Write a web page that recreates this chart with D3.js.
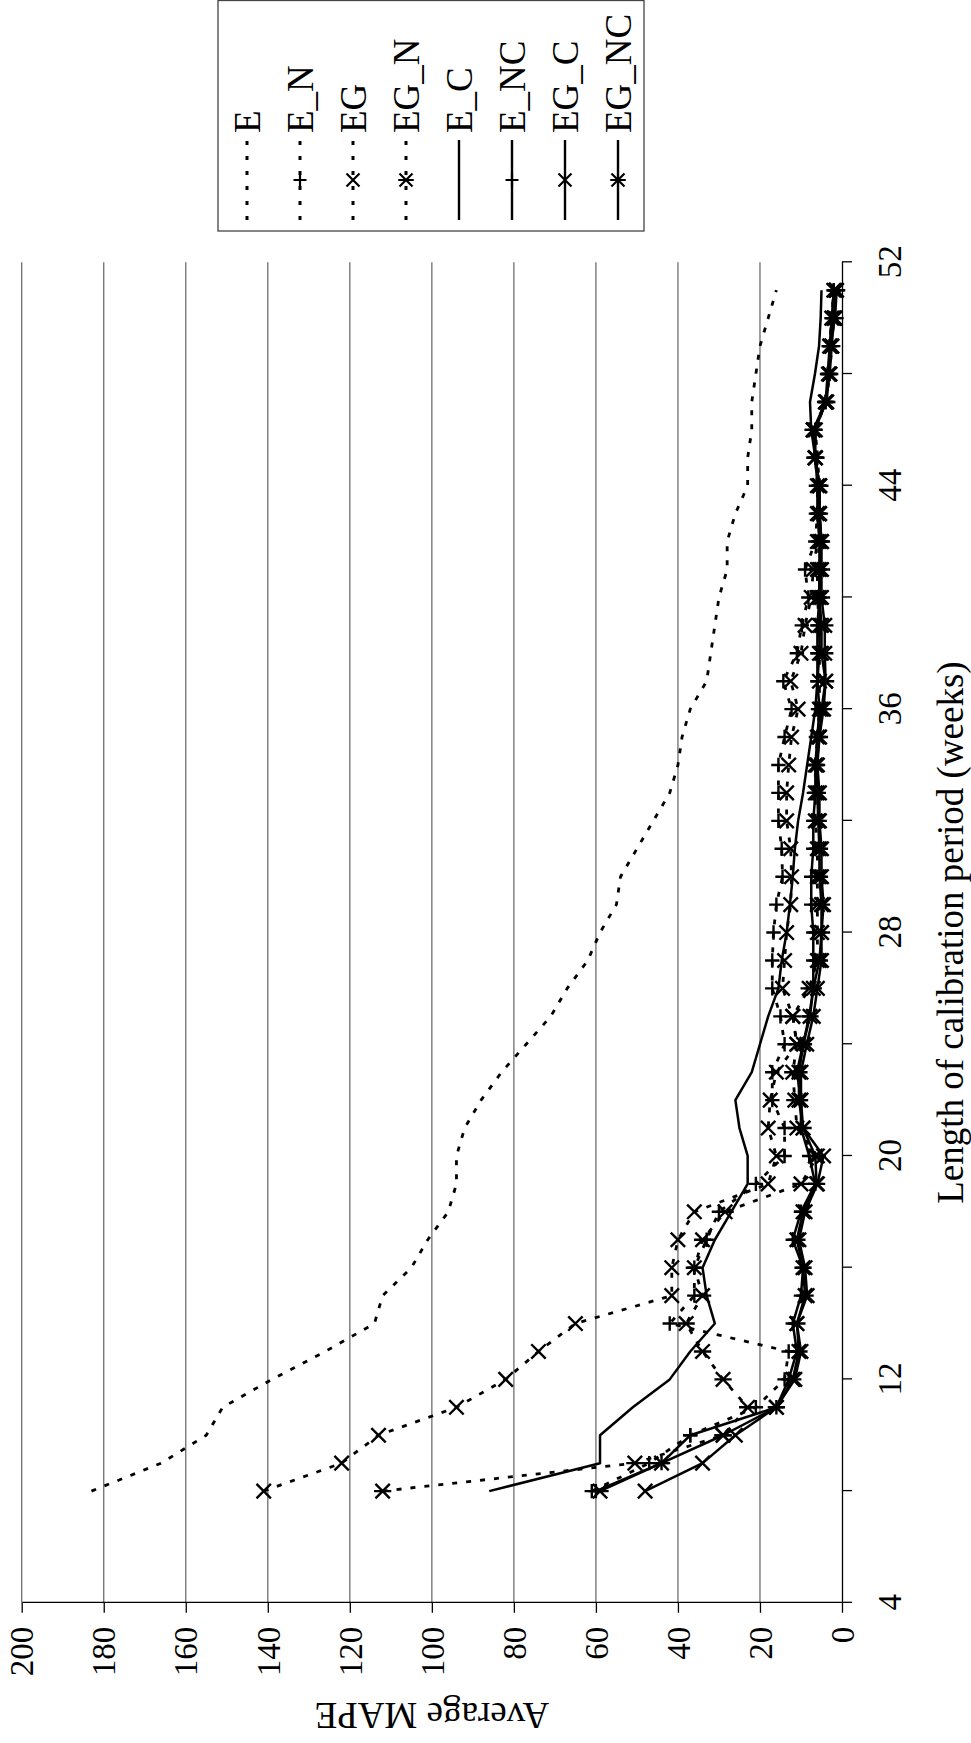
<!DOCTYPE html>
<html><head><meta charset="utf-8">
<script src="https://cdn.jsdelivr.net/npm/d3@7"></script>
<style>
html,body{margin:0;padding:0;background:#fff;}
svg{display:block;}
text{font-family:"Liberation Serif","Times New Roman",serif;fill:#000;}
</style></head>
<body>
<svg id="chart" width="971" height="1743"></svg>
<script>
// ---- data (weeks 8..51) ----
const weeks = [8,9,10,11,12,13,14,15,16,17,18,19,20,21,22,23,24,25,26,27,28,29,30,31,32,33,34,35,36,37,38,39,40,41,42,43,44,45,46,47,48,49,50,51];
const seriesNames = ["E","E_N","EG","EG_N","E_C","E_NC","EG_C","EG_NC"];
const E     = [183,166,155,151,139,126,114,112,105,101,96,94,94,92,88,83,77,71,67,62,59,55,54,50,46,42,40,39,37,33,32,31,30,28,28,26,23,23,22,22,21,20,18,16];
const E_N   = [61,47,37,21,14,13,42,36,36,33,30,21,14,14,17,17,14,15,17,17,16.7,16,14.5,14.7,15.5,15.5,15.5,14,12.3,14.3,11,9.8,8.2,9,6.5,6,5.5,6,6.5,4,3,3,2.5,2];
const EG    = [141,122,113,94,82,74,65,41.5,41.5,40,36,18,16,18,17.5,16,11,12,14.5,14,13.5,12.5,12.3,12.5,13.5,13.5,13,12.3,10.7,12.5,10,9,7.5,7,6,5.5,5.5,6.5,6.5,4,3,3,2.5,2];
const EG_N  = [112,50.5,29,23,29,34,38,34,36,34,28.5,10,6,11,11.5,12,11,12,8,6,6,6,6,6,6.5,6.5,6.5,6,5.5,5.5,5.5,5.5,6,6,5.5,6,6,6.5,7,4,3,2.5,2,1.5];
const E_C   = [86,59,59,51,42,37,31,33,34,31,27,23,23,25,26,22,20,18,15.5,14.7,13.5,12.7,12,11.5,10.7,9.5,8.5,7.5,6.5,6,5.5,5.5,5.5,5.5,5.5,6,6,6.5,7.5,7.8,6.6,5.6,5.2,5];
const E_NC  = [60,44,37,16,13,11,12,10,9.5,12,10,6.5,8,10,10,11,9.5,8,7,7,7,7.5,7.5,7,7,6.5,6.5,6,5.5,6,6,6,5.5,5.5,5,5.5,5.5,6.5,6.5,4,3.5,3,2.5,2];
const EG_C  = [48,34,26,16,11.5,10,11,8.5,9,10.5,9,6,4.5,9.5,10,10,8.6,7,6,5,5,4.5,5,5,5.5,5.5,6,5.5,5,4,5,5,5.5,5.5,5,5.5,5.5,6.5,7,4,3,2.5,2,1.5];
const EG_NC = [59,44,29,16,12,10.5,11,9,9.5,11,9.5,6.2,6.5,9.5,10.5,10.5,9.4,7.8,7,5.5,5,5,5.5,5.5,5.8,6,6.2,5.5,4.5,4,4.2,4.2,5,5,5,5.5,5.4,6.6,7,3.7,3.3,2.9,1.7,1.3];
const seriesValues = [E,E_N,EG,EG_N,E_C,E_NC,EG_C,EG_NC];
const seriesDash   = [true,true,true,true,false,false,false,false];
const seriesMarker = [null,"plus","cross","star",null,"plus","cross","star"];
const weekTicks = [4,8,12,16,20,24,28,32,36,40,44,48,52];
const weekLabels = [4,12,20,28,36,44,52];
const mapeTicks = [0,20,40,60,80,100,120,140,160,180,200];
const xTitle = "Length of calibration period (weeks)";
const yTitle = "Average MAPE";

// ---- layout: landscape chart rotated -90deg ----
const W = 1743, H = 971;
const svg = d3.select("#chart");
svg.append("rect").attr("width",971).attr("height",1743).attr("fill","#fff");
const g = svg.append("g").attr("transform",`translate(0,${W}) rotate(-90)`);

const x = d3.scaleLinear().domain([4,52]).range([140.2,1480.7]);
const y = d3.scaleLinear().domain([0,200]).range([842,21.7]);

// gridlines
g.append("g").selectAll("line").data(mapeTicks.filter(d=>d>0)).join("line")
  .attr("x1",x(4)).attr("x2",x(52)).attr("y1",d=>y(d)).attr("y2",d=>y(d))
  .attr("stroke","#6e6e6e").attr("stroke-width",1.3);

// axes
const FONT = "'Liberation Serif','Times New Roman',serif";
const xAxis = d3.axisBottom(x).tickValues(weekTicks)
  .tickFormat(d=>weekLabels.includes(d)?d:"").tickSize(10).tickSizeOuter(0);
const gx = g.append("g").attr("transform",`translate(0,${y(0)})`).call(xAxis);
gx.attr("font-family",FONT);
gx.selectAll("text").attr("y",47).attr("dy","0.35em").style("font-size","33px")
  .style("font-family",FONT);
gx.selectAll("line,path").attr("stroke","#000").attr("stroke-width",1.3);

const yAxis = d3.axisLeft(y).tickValues(mapeTicks).tickSize(10).tickPadding(14).tickSizeOuter(0);
const gy = g.append("g").attr("transform",`translate(${x(4)},0)`).call(yAxis);
gy.attr("font-family",FONT);
gy.selectAll("text").attr("dy","0.34em").style("font-size","33px")
  .style("font-family",FONT);
gy.selectAll("line,path").attr("stroke","#000").attr("stroke-width",1.3);

// titles
g.append("text").attr("x",(x(4)+x(52))/2).attr("y",963).attr("text-anchor","middle")
  .style("font-size","37px").text(xTitle);
g.append("text").attr("transform",`translate(40,${(y(0)+y(200))/2}) rotate(-90)`)
  .attr("text-anchor","middle").style("font-size","37px").text(yTitle);

// markers
function markerPath(type,h){
  if(type==="plus") return `M${-h},0H${h}M0,${-h}V${h}`;
  if(type==="cross") return `M${-h},${-h}L${h},${h}M${-h},${h}L${h},${-h}`;
  if(type==="star") return `M${-h},${-h}L${h},${h}M${-h},${h}L${h},${-h}M0,${-h*1.2}V${h*1.2}`;
  return "";
}
const line = d3.line().x(d=>x(d[0])).y(d=>y(d[1]));

seriesNames.forEach((name,i)=>{
  const pts = weeks.map((w,j)=>[w,seriesValues[i][j]]);
  const sg = g.append("g").attr("class","series-"+name);
  sg.append("path").datum(pts).attr("d",line).attr("fill","none")
    .attr("stroke","#000").attr("stroke-width",seriesDash[i]?2.8:2.5)
    .attr("stroke-dasharray",seriesDash[i]?"5,9":null)
    .attr("stroke-linejoin","round");
  if(seriesMarker[i]){
    sg.selectAll("path.m").data(pts).join("path").attr("class","m")
      .attr("transform",d=>`translate(${x(d[0])},${y(d[1])})`)
      .attr("d",markerPath(seriesMarker[i],7.2))
      .attr("fill","none").attr("stroke","#000").attr("stroke-width",2.4);
  }
});

// legend
const lg = g.append("g");
lg.append("rect").attr("x",1512).attr("y",218).attr("width",230.5).attr("height",426)
  .attr("fill","#fff").attr("stroke","#444").attr("stroke-width",1.3);
const rowY = d3.scalePoint().domain(seriesNames).range([247,618]);
seriesNames.forEach((name,i)=>{
  const yy = rowY(name);
  lg.append("line").attr("x1",1523).attr("x2",1603).attr("y1",yy).attr("y2",yy)
    .attr("stroke","#000").attr("stroke-width",seriesDash[i]?3:2.4)
    .attr("stroke-dasharray",seriesDash[i]?"4,11":null);
  if(seriesMarker[i]){
    lg.append("path").attr("transform",`translate(1563,${yy})`)
      .attr("d",markerPath(seriesMarker[i],6.5)).attr("fill","none")
      .attr("stroke","#000").attr("stroke-width",2.2);
  }
  lg.append("text").attr("x",1610).attr("y",yy).attr("dy","0.35em")
    .style("font-size","37px").text(name);
});
</script>
</body></html>
